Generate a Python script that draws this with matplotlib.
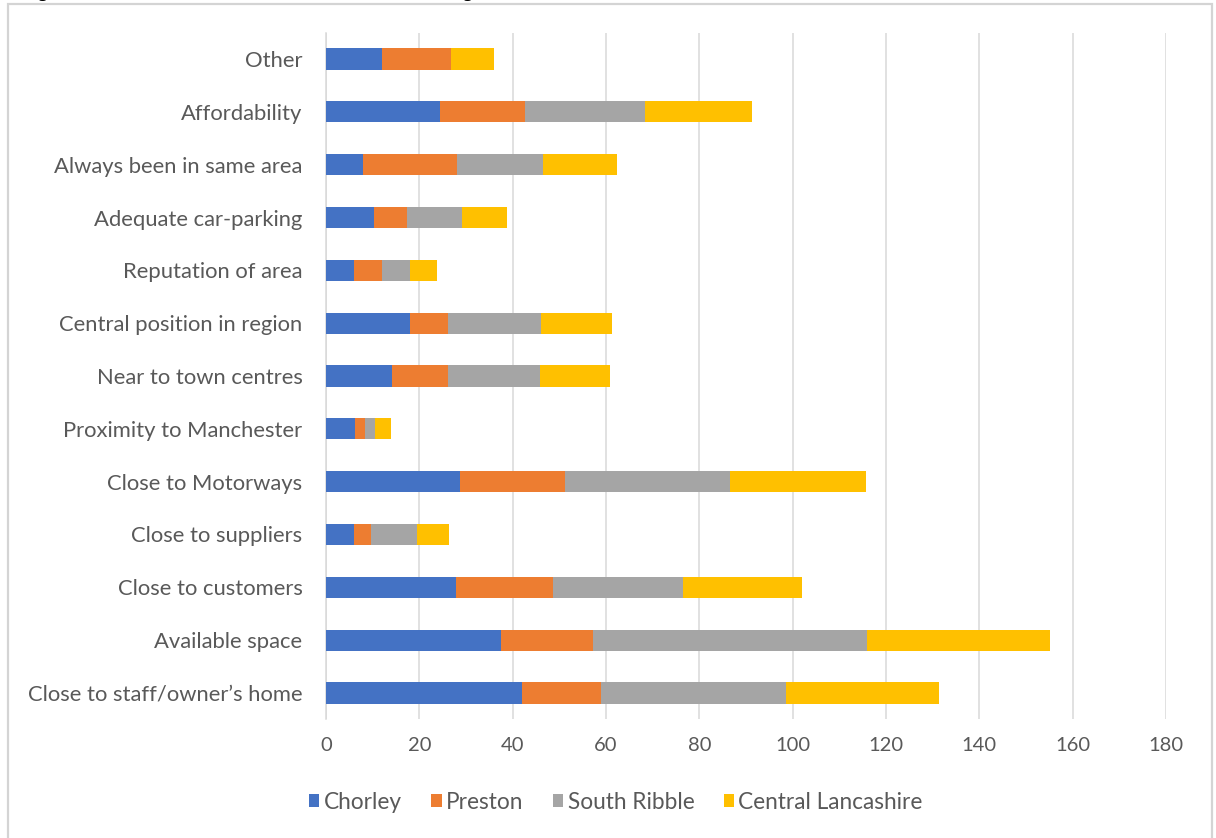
import numpy as np
import matplotlib
matplotlib.use("Agg")
import matplotlib.pyplot as plt
from matplotlib.patches import Rectangle

# categories, bottom to top as drawn
reasons = ["Close to staff/owner\u2019s home", "Available space", "Close to customers",
           "Close to suppliers", "Close to Motorways", "Proximity to Manchester",
           "Near to town centres", "Central position in region", "Reputation of area",
           "Adequate car-parking", "Always been in same area", "Affordability", "Other"]

chorley = [42.0, 37.6, 27.8, 6.1, 28.7, 6.2, 14.1, 18.0, 6.1, 10.3, 7.9, 24.4, 12.0]
preston = [16.9, 19.7, 20.9, 3.6, 22.5, 2.2, 12.0, 8.2, 5.8, 7.0, 20.2, 18.2, 14.8]
south_ribble = [39.7, 58.6, 27.7, 9.9, 35.4, 2.1, 19.8, 19.8, 6.1, 11.8, 18.5, 25.8, 0.0]
central_lancs = [32.7, 39.2, 25.7, 6.8, 29.1, 3.4, 15.0, 15.2, 5.7, 9.6, 15.8, 22.8, 9.1]

series_names = ["Chorley", "Preston", "South Ribble", "Central Lancashire"]
series_colors = ["#4472C4", "#ED7D31", "#A5A5A5", "#FFC000"]
x_ticks = [0, 20, 40, 60, 80, 100, 120, 140, 160, 180]

title_text = "Figure 7: Reasons for the choice of business setting"

text_grey = "#595959"
plt.rcParams["font.family"] = ["Lato", "DejaVu Sans"]


def plotChart():
    fig = plt.figure(figsize=(12.16, 8.38), dpi=100)
    fig.patch.set_facecolor("white")

    # chart frame, cut at the bottom of the picture
    fig.patches.append(Rectangle((8 / 1216, -0.05), 1204 / 1216, 1.05 - 4 / 838,
                                 transform=fig.transFigure, fill=False,
                                 edgecolor="#d4d4d4", linewidth=1.6))
    # title mostly above the picture, only descenders show
    fig.text(22 / 1216, 1 + 2 / 838, title_text, fontsize=11.1, fontweight="bold",
             family="DejaVu Sans", va="baseline", ha="left", color="black")

    ax = fig.add_axes([326 / 1216, 1 - 719.4 / 838, 840 / 1216, (719.4 - 32.6) / 838])
    y = np.arange(len(reasons))
    left = np.zeros(len(reasons))
    data = [chorley, preston, south_ribble, central_lancs]
    for vals, name, col in zip(data, series_names, series_colors):
        vals = np.array(vals)
        ax.barh(y, vals, left=left, height=0.4, color=col, label=name, zorder=3)
        left += vals

    ax.set_xlim(0, 180)
    ax.set_ylim(-0.5, len(reasons) - 0.5)
    ax.set_xticks(x_ticks)
    ax.set_yticks(y)
    ax.set_yticklabels(reasons)
    ax.tick_params(axis="both", length=0, colors=text_grey)
    ax.tick_params(axis="x", pad=13, labelsize=14.5)
    ax.tick_params(axis="y", pad=17, labelsize=15.8)
    ax.grid(axis="x", color="#d9d9d9", linewidth=1.1, zorder=0)
    for s in ["top", "right", "bottom"]:
        ax.spines[s].set_visible(False)
    ax.spines["left"].set_color("#d9d9d9")
    ax.spines["left"].set_linewidth(1.1)

    handles, labels = ax.get_legend_handles_labels()
    fig.legend(handles, labels, loc="center", bbox_to_anchor=(616 / 1216, 1 - 802 / 838),
               ncol=4, frameon=False, fontsize=16.3, labelcolor=text_grey,
               handlelength=0.45, handleheight=0.45, handletextpad=0.2, columnspacing=1.3)

    fig.savefig("out.png", dpi=100)


def main():
    plotChart()


if __name__ == "__main__":
    main()
